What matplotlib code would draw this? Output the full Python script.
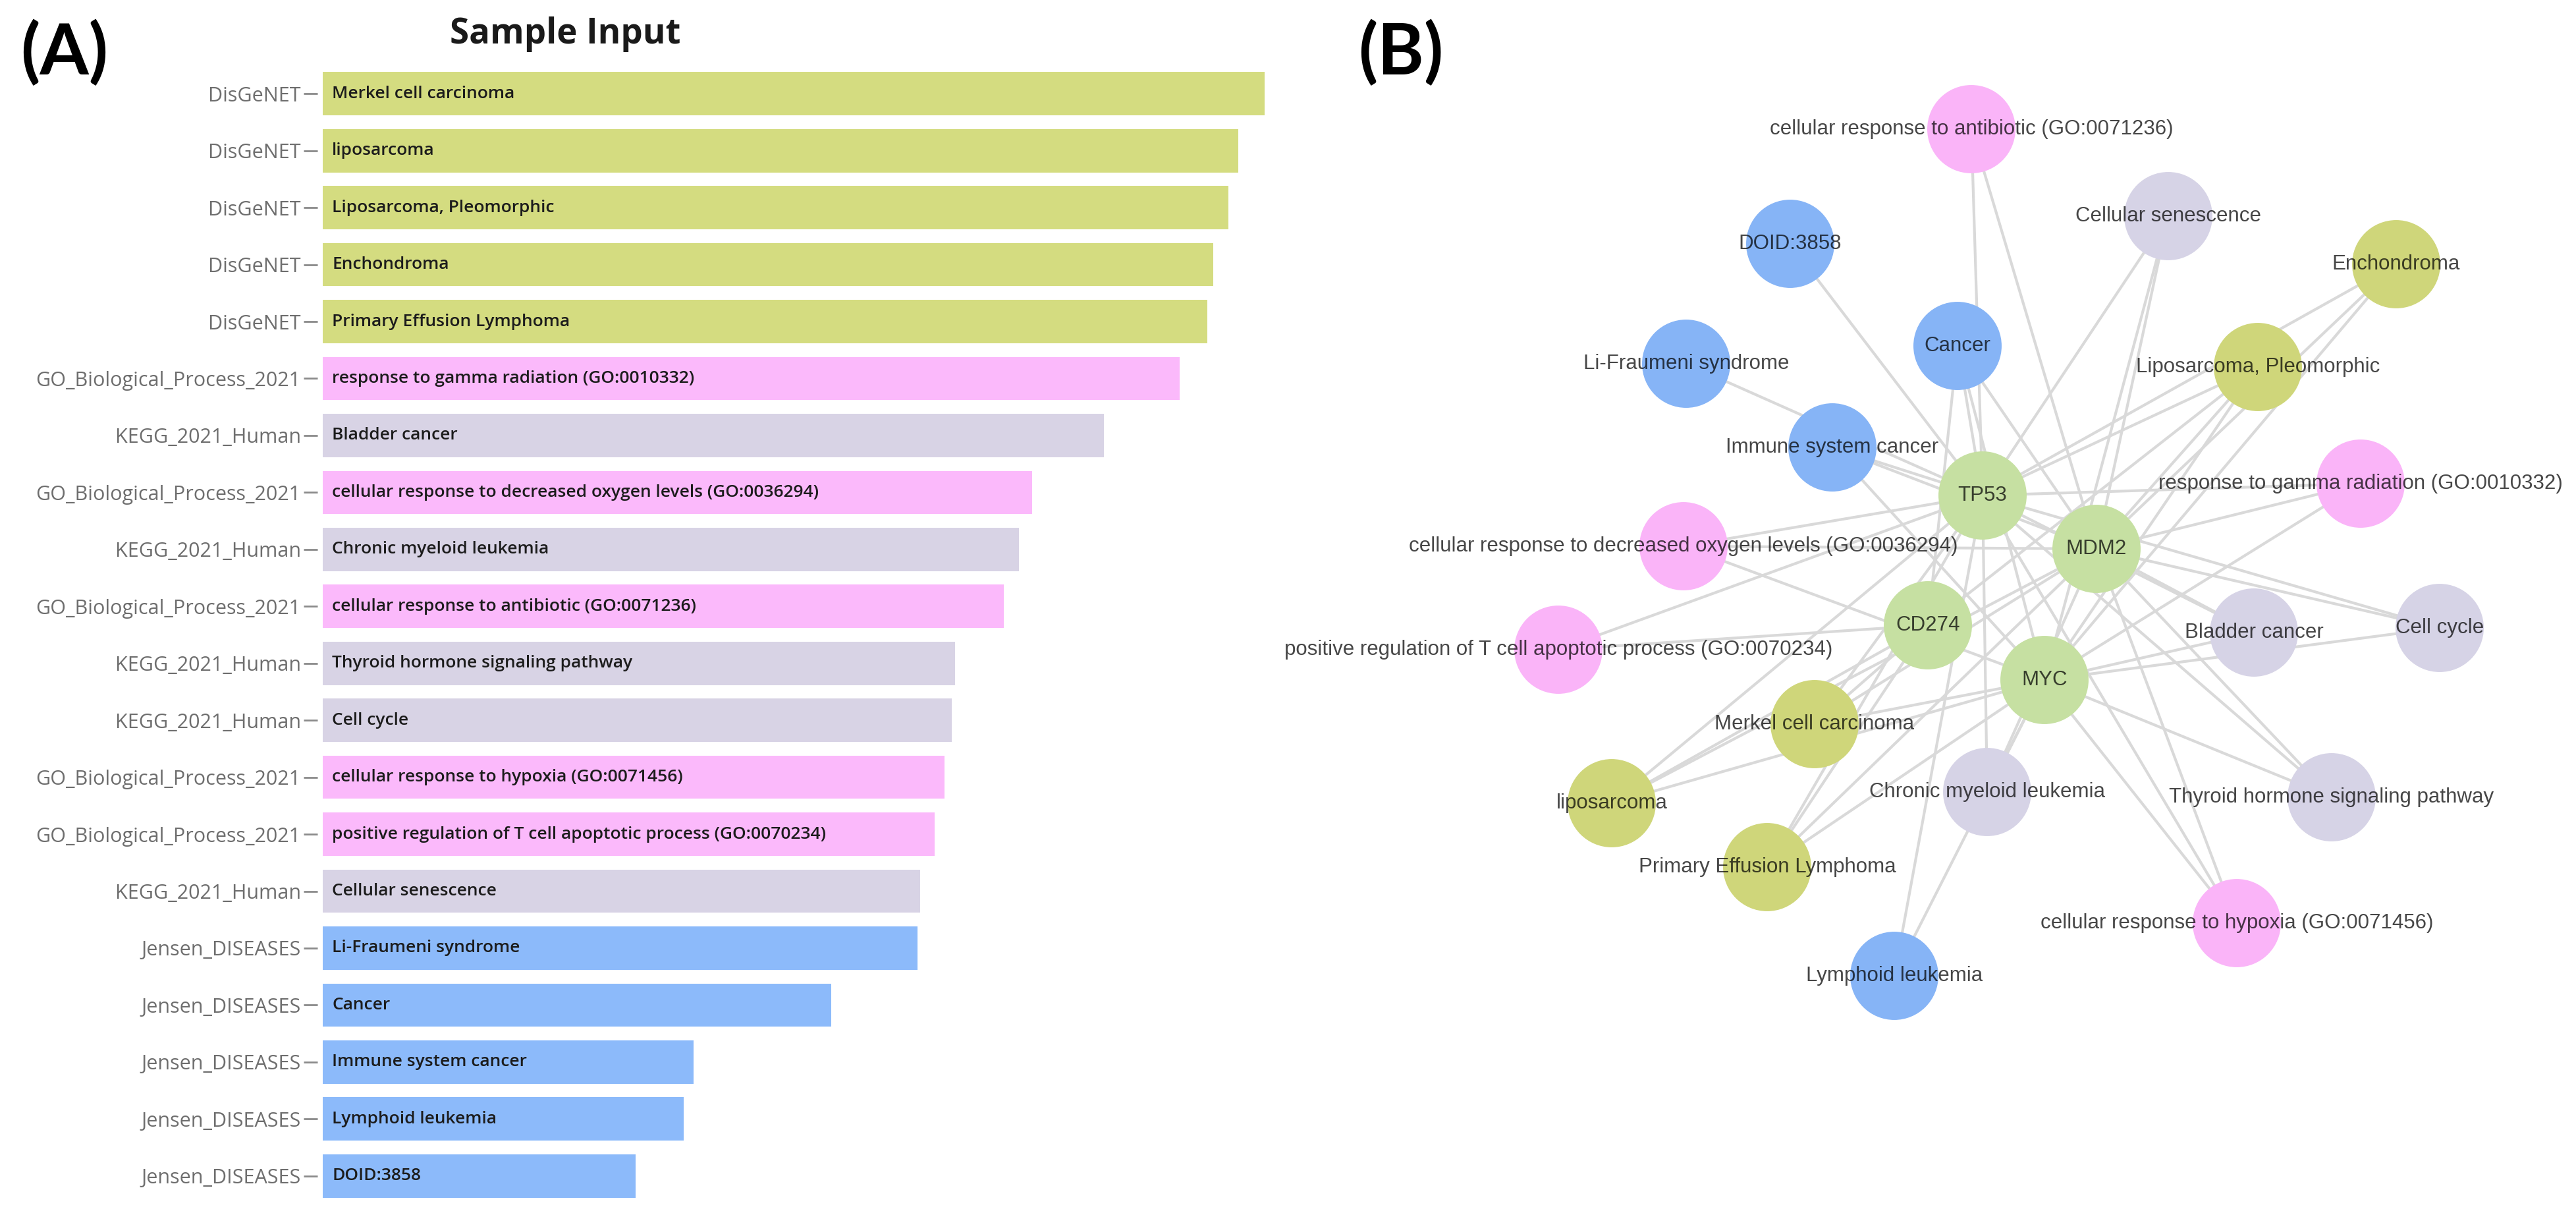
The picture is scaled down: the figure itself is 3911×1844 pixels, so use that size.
import matplotlib
matplotlib.use("Agg")
import matplotlib.pyplot as plt

# ---------------- data: panel A ----------------
libraries = ["DisGeNET", "DisGeNET", "DisGeNET", "DisGeNET", "DisGeNET",
             "GO_Biological_Process_2021", "KEGG_2021_Human", "GO_Biological_Process_2021",
             "KEGG_2021_Human", "GO_Biological_Process_2021", "KEGG_2021_Human",
             "KEGG_2021_Human", "GO_Biological_Process_2021", "GO_Biological_Process_2021",
             "KEGG_2021_Human", "Jensen_DISEASES", "Jensen_DISEASES", "Jensen_DISEASES",
             "Jensen_DISEASES", "Jensen_DISEASES"]
terms = ["Merkel cell carcinoma", "liposarcoma", "Liposarcoma, Pleomorphic", "Enchondroma",
         "Primary Effusion Lymphoma", "response to gamma radiation (GO:0010332)",
         "Bladder cancer", "cellular response to decreased oxygen levels (GO:0036294)",
         "Chronic myeloid leukemia", "cellular response to antibiotic (GO:0071236)",
         "Thyroid hormone signaling pathway", "Cell cycle",
         "cellular response to hypoxia (GO:0071456)",
         "positive regulation of T cell apoptotic process (GO:0070234)",
         "Cellular senescence", "Li-Fraumeni syndrome", "Cancer", "Immune system cancer",
         "Lymphoid leukemia", "DOID:3858"]
scores = [14.30, 13.90, 13.75, 13.52, 13.43, 13.01, 11.86, 10.77, 10.57, 10.34,
          9.60, 9.55, 9.44, 9.29, 9.07, 9.03, 7.72, 5.63, 5.48, 4.75]

lib_colors = {"DisGeNET": "#d4dc80", "GO_Biological_Process_2021": "#fbb9fb",
              "KEGG_2021_Human": "#d8d3e5", "Jensen_DISEASES": "#8cbafa"}

# ---------------- data: panel B ----------------
genes = ["TP53", "MDM2", "CD274", "MYC"]
net_nodes = ["TP53", "MDM2", "CD274", "MYC",
             "cellular response to antibiotic (GO:0071236)", "Cellular senescence", "DOID:3858",
             "Enchondroma", "Cancer", "Li-Fraumeni syndrome", "Liposarcoma, Pleomorphic",
             "Immune system cancer", "response to gamma radiation (GO:0010332)",
             "cellular response to decreased oxygen levels (GO:0036294)",
             "positive regulation of T cell apoptotic process (GO:0070234)",
             "Bladder cancer", "Cell cycle", "Merkel cell carcinoma", "liposarcoma",
             "Chronic myeloid leukemia", "Thyroid hormone signaling pathway",
             "Primary Effusion Lymphoma", "cellular response to hypoxia (GO:0071456)",
             "Lymphoid leukemia"]
net_group = ["gene", "gene", "gene", "gene",
             "GO", "KEGG", "Jensen", "DisGeNET", "Jensen", "Jensen", "DisGeNET",
             "Jensen", "GO", "GO", "GO", "KEGG", "KEGG", "DisGeNET", "DisGeNET",
             "KEGG", "KEGG", "DisGeNET", "GO", "Jensen"]
# layout coordinates of the force-directed network
layout_x = [1060, 1233, 977, 1154, 1043, 1342, 768, 1688, 1022, 610, 1478, 832, 1634,
            606, 416, 1472, 1754, 805, 497, 1067, 1590, 733, 1446, 926]
layout_y = [752, 833, 949, 1032, 196, 328, 370, 401, 525, 552, 557, 679, 734,
            829, 986, 960, 953, 1099, 1219, 1202, 1210, 1316, 1401, 1481]
term_genes = {
    "cellular response to antibiotic (GO:0071236)": ["TP53", "MDM2"],
    "Cellular senescence": ["TP53", "MDM2", "MYC"],
    "DOID:3858": ["TP53"],
    "Enchondroma": ["TP53", "MDM2", "MYC"],
    "Cancer": ["TP53", "MDM2", "MYC", "CD274"],
    "Li-Fraumeni syndrome": ["TP53"],
    "Liposarcoma, Pleomorphic": ["TP53", "MDM2", "MYC", "CD274"],
    "Immune system cancer": ["TP53", "MDM2", "MYC"],
    "response to gamma radiation (GO:0010332)": ["TP53", "MDM2", "MYC"],
    "cellular response to decreased oxygen levels (GO:0036294)": ["TP53", "MDM2", "MYC"],
    "positive regulation of T cell apoptotic process (GO:0070234)": ["TP53", "CD274"],
    "Bladder cancer": ["TP53", "MDM2", "MYC"],
    "Cell cycle": ["TP53", "MDM2", "MYC"],
    "Merkel cell carcinoma": ["TP53", "MDM2", "MYC", "CD274"],
    "liposarcoma": ["TP53", "MDM2", "MYC", "CD274"],
    "Chronic myeloid leukemia": ["TP53", "MDM2", "MYC"],
    "Thyroid hormone signaling pathway": ["TP53", "MDM2", "MYC"],
    "Primary Effusion Lymphoma": ["TP53", "MDM2", "MYC", "CD274"],
    "cellular response to hypoxia (GO:0071456)": ["TP53", "MDM2", "MYC"],
    "Lymphoid leukemia": ["TP53", "MYC"],
}
group_colors = {"gene": "#c6e0a2", "GO": "#fab4f8", "KEGG": "#d6d3e6",
                "Jensen": "#86b4f6", "DisGeNET": "#cfd67a"}

# ---------------- figure ----------------
W, H = 3911, 1844
fig = plt.figure(figsize=(W / 100, H / 100), dpi=100)
fig.patch.set_facecolor("white")

# ---- panel A: bar chart ----
n = len(terms)
left_px, right_px = 490, 1930
top_px, bot_px = 99, 1828
ax = fig.add_axes([left_px / W, 1 - bot_px / H, (right_px - left_px) / W, (bot_px - top_px) / H])
ax.spines["left"].set_position(("outward", 6))
for s in ax.spines.values():
    s.set_visible(False)
ypos = list(range(n))
ax.barh(ypos, scores, height=0.76, color=[lib_colors[l] for l in libraries], zorder=2)
ax.set_ylim(n - 0.5, -0.5)
ax.set_xlim(0, 14.40)
ax.set_xticks([])
ax.set_yticks(ypos)
ax.set_yticklabels(libraries)
ax.tick_params(axis="y", length=15, width=2, color="#8a8a8a", pad=3,
               labelsize=22, labelcolor="#6e6e6e")
for lab in ax.get_yticklabels():
    lab.set_family("Open Sans")
for i, t in enumerate(terms):
    ax.annotate(t, xy=(0, i), xytext=(14, 0), textcoords="offset pixels",
                va="center", ha="left", fontsize=19, color="#1c1c1c",
                family="Open Sans", fontweight="semibold", zorder=3)

fig.text(858 / W, 1 - 52 / H, "Sample Input", ha="center", va="center",
         fontsize=38, fontweight="bold", family="Open Sans", color="#1a1a1a")
fig.text(31 / W, 1 - 80 / H, "(A)", ha="left", va="center",
         fontsize=77, fontweight="bold", family="Lato", color="black")
fig.text(2062 / W, 1 - 80 / H, "(B)", ha="left", va="center",
         fontsize=77, fontweight="bold", family="Lato", color="black")

# ---- panel B: network ----
px0 = 1950
ax2 = fig.add_axes([px0 / W, 0, (W - px0) / W, 1])
ax2.set_xlim(0, W - px0)
ax2.set_ylim(H, 0)
ax2.axis("off")
idx = {name: k for k, name in enumerate(net_nodes)}
for term, gl in term_genes.items():
    a = idx[term]
    for g in gl:
        b = idx[g]
        ax2.plot([layout_x[a], layout_x[b]], [layout_y[a], layout_y[b]],
                 color="#d9d9d9", lw=3, solid_capstyle="round", zorder=1)
ax2.scatter(layout_x, layout_y, s=9300, c=[group_colors[g] for g in net_group],
            edgecolors="none", zorder=2)
for k, name in enumerate(net_nodes):
    ax2.text(layout_x[k], layout_y[k], name, ha="center", va="center",
             fontsize=22.5, family="Liberation Sans", color="black", alpha=0.72, zorder=3)

fig.savefig("out.png", dpi=100, facecolor="white")
